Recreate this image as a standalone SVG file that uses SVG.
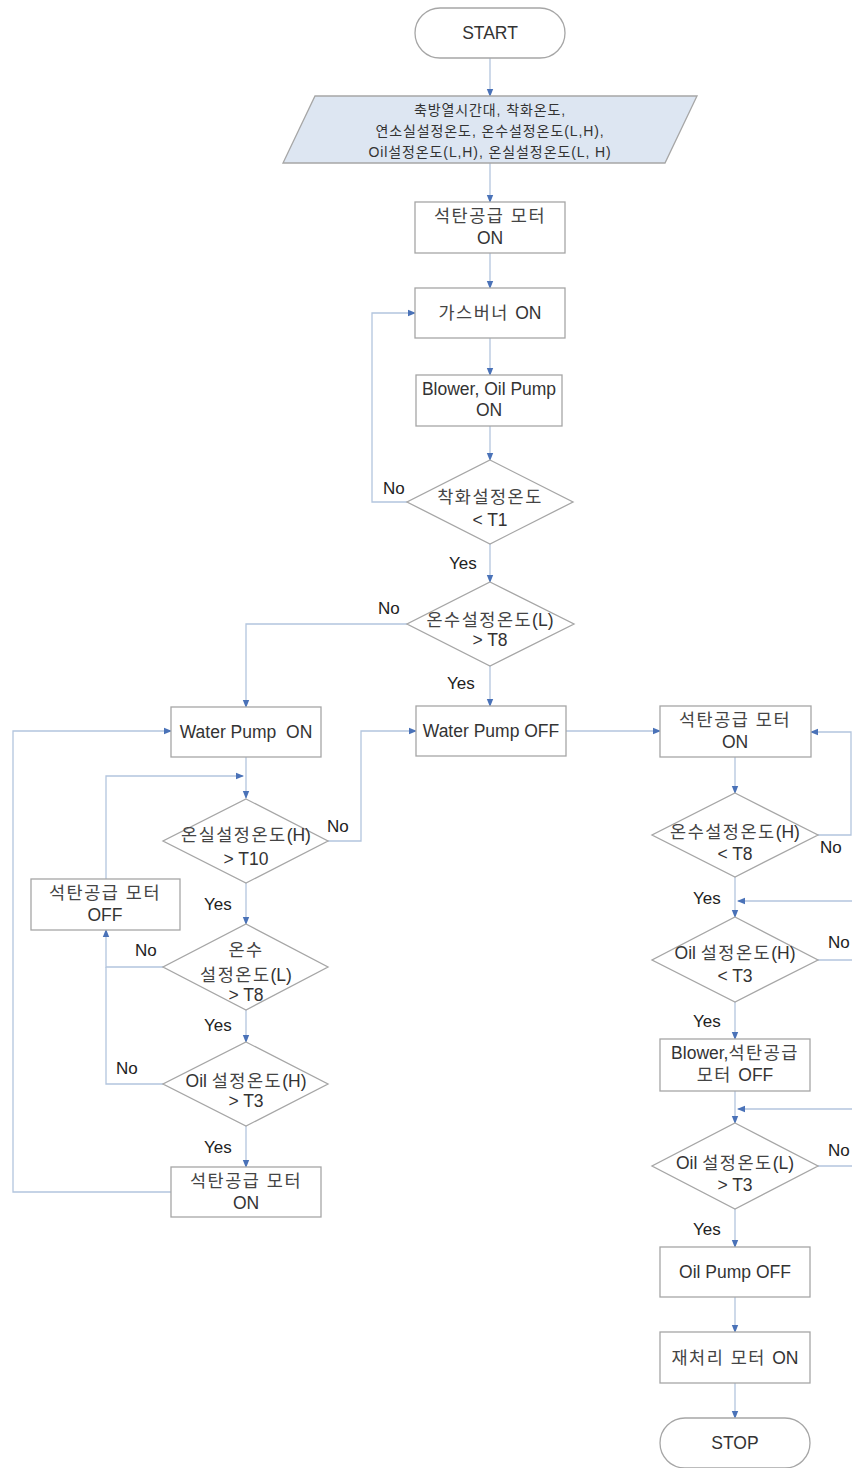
<svg xmlns="http://www.w3.org/2000/svg" width="852" height="1468" viewBox="0 0 852 1468">
<style>
.n{fill:#fff;stroke:#a6a6a6;stroke-width:1.3}
.io{fill:#dde6f2;stroke:#a6a6a6;stroke-width:1.3}
.t{font-family:"Liberation Sans","Noto Sans CJK KR",sans-serif;font-size:17.5px;fill:#333;text-anchor:middle;white-space:pre}
.k{letter-spacing:1.5px;fill:#444}
.e{letter-spacing:0;fill:#333}
.s{font-size:14px;letter-spacing:0.9px}
.l{font-family:"Liberation Sans","Noto Sans CJK KR",sans-serif;font-size:17px;fill:#222}
.c{fill:none;stroke:#b3c5de;stroke-width:1.3}
</style>
<defs>
<marker id="a" markerWidth="8" markerHeight="8" refX="7" refY="4" orient="auto" markerUnits="userSpaceOnUse">
<path d="M0,0.8 L8,4 L0,7.2 Z" fill="#4a72b8"/>
</marker>
</defs>
<rect width="852" height="1468" fill="#fff"/>
<g id="connectors">
<path class="c" marker-end="url(#a)" d="M490,58 V96"/>
<path class="c" marker-end="url(#a)" d="M490,163 V202"/>
<path class="c" marker-end="url(#a)" d="M490,253 V288"/>
<path class="c" marker-end="url(#a)" d="M490,338 V375"/>
<path class="c" marker-end="url(#a)" d="M490,426 V460"/>
<path class="c" marker-end="url(#a)" d="M407,502 H372 V313 H415"/>
<path class="c" marker-end="url(#a)" d="M490,544 V582"/>
<path class="c" marker-end="url(#a)" d="M407,624 H246 V707"/>
<path class="c" marker-end="url(#a)" d="M490,666 V706"/>
<path class="c" marker-end="url(#a)" d="M566,731 H660"/>
<path class="c" marker-end="url(#a)" d="M246,757 V798"/>
<path class="c" marker-end="url(#a)" d="M106,879 V776 H243"/>
<path class="c" marker-end="url(#a)" d="M328,841 H361 V731 H416"/>
<path class="c" marker-end="url(#a)" d="M246,883 V924"/>
<path class="c" marker-end="url(#a)" d="M163,967 H106 V930"/>
<path class="c" marker-end="url(#a)" d="M246,1010 V1042"/>
<path class="c" d="M163,1084 H106 V967"/>
<path class="c" marker-end="url(#a)" d="M246,1126 V1167"/>
<path class="c" marker-end="url(#a)" d="M171,1192 H13 V731 H171"/>
<path class="c" marker-end="url(#a)" d="M735,757 V793"/>
<path class="c" marker-end="url(#a)" d="M818,835 H851 V732 H811"/>
<path class="c" marker-end="url(#a)" d="M735,877 V917"/>
<path class="c" marker-end="url(#a)" d="M852,901 H738"/>
<path class="c" d="M818,960 H852"/>
<path class="c" marker-end="url(#a)" d="M735,1002 V1039"/>
<path class="c" marker-end="url(#a)" d="M735,1091 V1123"/>
<path class="c" marker-end="url(#a)" d="M852,1109 H738"/>
<path class="c" d="M818,1166 H852"/>
<path class="c" marker-end="url(#a)" d="M735,1209 V1247"/>
<path class="c" marker-end="url(#a)" d="M735,1297 V1332"/>
<path class="c" marker-end="url(#a)" d="M735,1383 V1418"/>
</g>
<g id="labels">
<text class="l" x="383" y="494">No</text>
<text class="l" x="449" y="569">Yes</text>
<text class="l" x="378" y="614">No</text>
<text class="l" x="447" y="689">Yes</text>
<text class="l" x="327" y="832">No</text>
<text class="l" x="204" y="910">Yes</text>
<text class="l" x="135" y="956">No</text>
<text class="l" x="204" y="1031">Yes</text>
<text class="l" x="116" y="1074">No</text>
<text class="l" x="204" y="1153">Yes</text>
<text class="l" x="820" y="853">No</text>
<text class="l" x="693" y="904">Yes</text>
<text class="l" x="828" y="948">No</text>
<text class="l" x="693" y="1027">Yes</text>
<text class="l" x="828" y="1156">No</text>
<text class="l" x="693" y="1235">Yes</text>
</g>
<g id="start"><rect class="n" x="415" y="8" width="150" height="50" rx="25"/><text class="t" x="490" y="39">START</text></g>
<g id="input"><polygon class="io" points="315,96 697,96 665,163 283,163"/>
<text class="t s" x="490" y="115">축방열시간대, 착화온도,</text>
<text class="t s" x="490" y="136">연소실설정온도, 온수설정온도(L,H),</text>
<text class="t s" x="490" y="157">Oil설정온도(L,H), 온실설정온도(L, H)</text></g>
<g id="coal-on-1"><rect class="n" x="415" y="202" width="150" height="51"/><text class="t k" x="490" y="222">석탄공급 모터</text><text class="t" x="490" y="244">ON</text></g>
<g id="gas-burner"><rect class="n" x="415" y="288" width="150" height="50"/><text class="t k" x="490" y="319">가스버너 <tspan class="e">ON</tspan></text></g>
<g id="blower-oil"><rect class="n" x="416" y="375" width="146" height="51"/><text class="t" x="489" y="395">Blower, Oil Pump</text><text class="t" x="489" y="416">ON</text></g>
<g id="d-ignite"><polygon class="n" points="490,460 573,502 490,544 407,502"/><text class="t k" x="490" y="503">착화설정온도</text><text class="t" x="490" y="526">&lt; T1</text></g>
<g id="d-water-l"><polygon class="n" points="490,582 574,624 490,666 407,624"/><text class="t k" x="490" y="626">온수설정온도<tspan class="e">(L)</tspan></text><text class="t" x="490" y="646">&gt; T8</text></g>
<g id="wp-on"><rect class="n" x="171" y="707" width="150" height="50"/><text class="t" x="246" y="738">Water Pump  ON</text></g>
<g id="wp-off"><rect class="n" x="416" y="706" width="150" height="50"/><text class="t" x="491" y="737">Water Pump OFF</text></g>
<g id="d-room-h"><polygon class="n" points="246,799 328,841 246,883 163,841"/><text class="t k" x="246" y="841">온실설정온도<tspan class="e">(H)</tspan></text><text class="t" x="246" y="865">&gt; T10</text></g>
<g id="coal-off-l"><rect class="n" x="31" y="879" width="149" height="51"/><text class="t k" x="105" y="899">석탄공급 모터</text><text class="t" x="105" y="921">OFF</text></g>
<g id="d-water-l2"><polygon class="n" points="246,924 328,967 246,1010 163,967"/><text class="t k" x="246" y="956">온수</text><text class="t k" x="246" y="981">설정온도<tspan class="e">(L)</tspan></text><text class="t" x="246" y="1001">&gt; T8</text></g>
<g id="d-oil-h-l"><polygon class="n" points="246,1042 328,1084 246,1126 163,1084"/><text class="t k" x="246" y="1087"><tspan class="e">Oil </tspan>설정온도<tspan class="e">(H)</tspan></text><text class="t" x="246" y="1107">&gt; T3</text></g>
<g id="coal-on-l"><rect class="n" x="171" y="1167" width="150" height="50"/><text class="t k" x="246" y="1187">석탄공급 모터</text><text class="t" x="246" y="1209">ON</text></g>
<g id="coal-on-r"><rect class="n" x="660" y="706" width="151" height="51"/><text class="t k" x="735" y="726">석탄공급 모터</text><text class="t" x="735" y="748">ON</text></g>
<g id="d-water-h"><polygon class="n" points="735,793 818,835 735,877 652,835"/><text class="t k" x="735" y="838">온수설정온도<tspan class="e">(H)</tspan></text><text class="t" x="735" y="860">&lt; T8</text></g>
<g id="d-oil-h-r"><polygon class="n" points="735,917 818,960 735,1002 652,960"/><text class="t k" x="735" y="959"><tspan class="e">Oil </tspan>설정온도<tspan class="e">(H)</tspan></text><text class="t" x="735" y="982">&lt; T3</text></g>
<g id="blower-coal-off"><rect class="n" x="660" y="1039" width="150" height="52"/><text class="t k" x="735" y="1059"><tspan class="e">Blower,</tspan>석탄공급</text><text class="t k" x="735" y="1081">모터 <tspan class="e">OFF</tspan></text></g>
<g id="d-oil-l"><polygon class="n" points="735,1123 818,1166 735,1209 652,1166"/><text class="t k" x="735" y="1169"><tspan class="e">Oil </tspan>설정온도<tspan class="e">(L)</tspan></text><text class="t" x="735" y="1191">&gt; T3</text></g>
<g id="oil-pump-off"><rect class="n" x="660" y="1247" width="150" height="50"/><text class="t" x="735" y="1278">Oil Pump OFF</text></g>
<g id="reprocess"><rect class="n" x="660" y="1332" width="150" height="51"/><text class="t k" x="735" y="1364">재처리 모터 <tspan class="e">ON</tspan></text></g>
<g id="stop"><rect class="n" x="660" y="1418" width="150" height="50" rx="25"/><text class="t" x="735" y="1449">STOP</text></g>
</svg>
